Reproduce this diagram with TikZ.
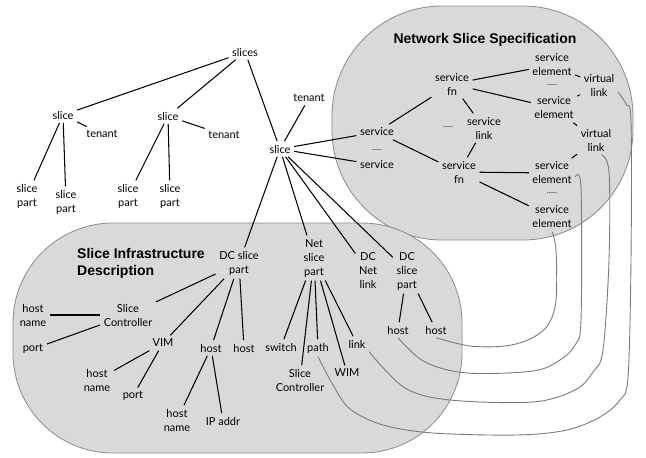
\documentclass[tikz,border=0pt]{standalone}
\usepackage{fontspec}
\setmainfont{Lato}
\newfontfamily\titlefont{Liberation Sans}
\definecolor{regionfill}{HTML}{D9D9D9}
\definecolor{regionline}{HTML}{8A8A8A}
\definecolor{curvegray}{HTML}{7A7A7A}
\begin{document}
\begin{tikzpicture}[x=1pt,y=-1pt,
  lbl/.style={font=\fontsize{11}{14}\selectfont, align=center, inner sep=3.5pt},
  dots/.style={font=\fontsize{7}{8}\selectfont, inner sep=1pt},
  ttl/.style={font=\titlefont\bfseries\fontsize{14}{17}\selectfont, inner sep=0pt},
  region/.style={fill=regionfill, draw=regionline, line width=0.8pt},
  edge/.style={draw=black, line width=1.05pt},
  gcurve/.style={draw=curvegray, line width=0.9pt}]
\useasboundingbox (0,0) rectangle (646,458);

% regions
\draw[region, rounded corners=110pt] (332,6) rectangle (633,240);
\draw[region, rounded corners=100pt] (13,223) rectangle (462,453);

% titles
\node[ttl] (nsst) at (485,40) {Network Slice Specification};
\node[ttl, align=left, anchor=west] (sidt) at (77,263) {Slice Infrastructure\\Description};

% top tree
\node[lbl] (slices) at (245,52) {slices};
\node[lbl] (sl1) at (63,115) {slice};
\node[lbl] (t1) at (102,134) {tenant};
\node[lbl] (sp1) at (27,196) {slice\\part};
\node[lbl] (sp2) at (66,202) {slice\\part};
\node[lbl] (sl2) at (168,116) {slice};
\node[lbl] (t2) at (224,135) {tenant};
\node[lbl] (sp3) at (128,196) {slice\\part};
\node[lbl] (sp4) at (170,196) {slice\\part};
\node[lbl] (t3) at (309,98) {tenant};
\node[lbl] (sl3) at (280,149) {slice};

% network slice specification
\node[lbl] (sf1) at (452,84) {service\\fn};
\node[lbl] (se1) at (552,65) {service\\element};
\node[dots] (d1) at (552,85) {......};
\node[lbl] (vl1) at (599,85) {virtual\\link};
\node[lbl] (se2) at (554,108) {service\\element};
\node[lbl] (vl2) at (596,140) {virtual\\link};
\node[lbl] (slink) at (484,128) {service\\link};
\node[dots] (d2) at (448,127) {......};
\node[lbl] (sv1) at (377,132) {service};
\node[dots] (d3) at (377,150) {......};
\node[lbl] (sv2) at (377,165) {service};
\node[lbl] (sf2) at (459,172) {service\\fn};
\node[lbl] (se3) at (552,173) {service\\element};
\node[dots] (d4) at (552,193) {......};
\node[lbl] (se4) at (552,217) {service\\element};

% slice infrastructure description
\node[lbl] (dcp) at (239,263) {DC slice\\part};
\node[lbl] (nsp) at (314,258) {Net\\slice\\part};
\node[lbl] (sc1) at (128,315) {Slice\\Controller};
\node[lbl] (hn1) at (33,315) {host\\name};
\node[lbl] (pt1) at (33,349) {port};
\node[lbl] (vim) at (163,343) {VIM};
\node[lbl] (h1) at (211,348) {host};
\node[lbl] (h2) at (244,348) {host};
\node[lbl] (sw) at (281,347) {switch};
\node[lbl] (path) at (318,348) {path};
\node[lbl] (hn2) at (97,380) {host\\name};
\node[lbl] (pt2) at (133,396) {port};
\node[lbl] (hn3) at (177,420) {host\\name};
\node[lbl] (ip) at (223,421) {IP addr};
\node[lbl] (sc2) at (300,380) {Slice\\Controller};
\node[lbl] (dnl) at (368,271) {DC\\Net\\link};
\node[lbl] (dcp2) at (407,271) {DC\\slice\\part};
\node[lbl] (hr1) at (398,330) {host};
\node[lbl] (hr2) at (436,330) {host};
\node[lbl] (link) at (357,344) {link};
\node[lbl] (wim) at (347,373) {WIM};

% edges
\path[edge] (slices) -- (sl1);
\path[edge] (slices) -- (sl2);
\path[edge] (slices) -- (sl3);
\path[edge] (sl1) -- (t1);
\path[edge] (sl1) -- (sp1);
\path[edge] (sl1) -- (sp2);
\path[edge] (sl2) -- (t2);
\path[edge] (sl2) -- (sp3);
\path[edge] (sl2) -- (sp4);
\path[edge] (t3) -- (sl3);
\path[edge] (sl3) -- (sv1);
\path[edge] (sl3) -- (sv2);
\path[edge] (sl3) -- (dcp);
\path[edge] (sl3) -- (nsp);
\path[edge] (sl3) -- (dnl);
\path[edge] (sl3) -- (dcp2);
\path[edge] (sv1) -- (sf1);
\path[edge] (sv1) -- (sf2);
\path[edge] (sf1) -- (se1);
\path[edge] (sf1) -- (se2);
\path[edge] (sf1) -- (slink);
\path[edge] (slink) -- (sf2);
\path[edge] (sf2) -- (se3);
\path[edge] (sf2) -- (se4);
\path[edge] (se1) -- (vl1);
\path[edge] (se2) -- (vl1);
\path[edge] (se2) -- (vl2);
\path[edge] (se3) -- (vl2);
\path[edge] (dcp) -- (sc1);
\path[edge] (dcp) -- (vim);
\path[edge] (dcp) -- (h1);
\path[edge] (dcp) -- (h2);
\path[edge] (sc1) -- (hn1);
\path[edge] (sc1) -- (pt1);
\path[edge] (vim) -- (hn2);
\path[edge] (vim) -- (pt2);
\path[edge] (h1) -- (hn3);
\path[edge] (h1) -- (ip);
\path[edge] (nsp) -- (sw);
\path[edge] (nsp) -- (sc2);
\path[edge] (nsp) -- (path);
\path[edge] (nsp) -- (wim);
\path[edge] (nsp) -- (link);
\path[edge] (dcp2) -- (hr1);
\path[edge] (dcp2) -- (hr2);

% gray mapping curves
\draw[gcurve] plot[smooth, tension=0.55] coordinates {(se4.south) (556,250) (556,300) (548,325) (530,339) (505,346) (470,346) (hr2.south)};
\draw[gcurve] plot[smooth, tension=0.55] coordinates {(se3.-10) (581,188) (581,320) (575,345) (560,360) (533,371) (467,373) (425,362) (hr1.south)};
\draw[gcurve] plot[smooth, tension=0.55] coordinates {(vl2.-70) (609,172) (609,260) (603,350) (593,372) (575,390) (533,402) (450,400) (405,388) (link.south east)};
\draw[gcurve] plot[smooth, tension=0.55] coordinates {(vl1.-20) (626,104) (631,122) (631,260) (628,377) (620,400) (600,417) (567,430) (517,435) (433,433) (383,425) (350,409) (333,385) (path.south)};
\end{tikzpicture}
\end{document}
